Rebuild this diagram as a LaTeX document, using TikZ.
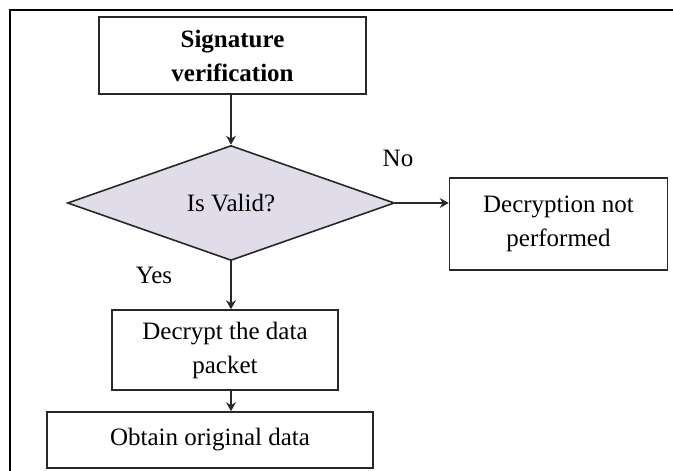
\documentclass[tikz,border=0pt]{standalone}
\usepackage{fontspec}
\setmainfont{Liberation Serif}
\usetikzlibrary{shapes.geometric,arrows.meta}
\definecolor{lav}{RGB}{224,220,234}
\definecolor{edge}{RGB}{40,40,40}
\begin{document}
\begin{tikzpicture}[x=1pt,y=-1pt,
  every node/.style={font=\fontsize{25}{34}\selectfont, align=center, inner sep=0pt},
  box/.style={draw=edge, line width=1.6pt, rectangle},
  conn/.style={line width=1.6pt, draw=edge, -{Stealth[length=9pt,width=10pt,inset=3pt]}},
  lbl/.style={font=\fontsize{25}{30}\selectfont}]
\useasboundingbox (0,0) rectangle (673,471);
\draw[line width=2.2pt] (10,490) -- (10,10) -- (690,10);
\node[box, minimum width=267pt, minimum height=77pt, font=\fontsize{25}{34}\selectfont\bfseries] (sig) at (232.5,55.5) {Signature\\verification};
\node[diamond, draw=edge, fill=lav, line width=1.6pt, aspect=2.84, minimum width=327pt, minimum height=115pt] (dec) at (231,203) {Is Valid?};
\node[box, minimum width=218pt, minimum height=92pt] (nobox) at (558.5,224) {Decryption not\\performed};
\node[box, minimum width=226pt, minimum height=80pt] (decrypt) at (225,350) {Decrypt the data\\packet};
\node[box, minimum width=326pt, minimum height=56pt] (obtain) at (210,440) {Obtain original data};
\node[lbl] (nolbl) at (398,158) {No};
\node[lbl] (yeslbl) at (154,275) {Yes};
\draw[conn] (sig.south -| dec.north) -- (dec.north);
\draw[conn] (dec.east) -- (dec.east -| nobox.west);
\draw[conn] (dec.south) -- (dec.south |- decrypt.north);
\draw[conn] (dec.south |- decrypt.south) -- (dec.south |- obtain.north);
\end{tikzpicture}
\end{document}
